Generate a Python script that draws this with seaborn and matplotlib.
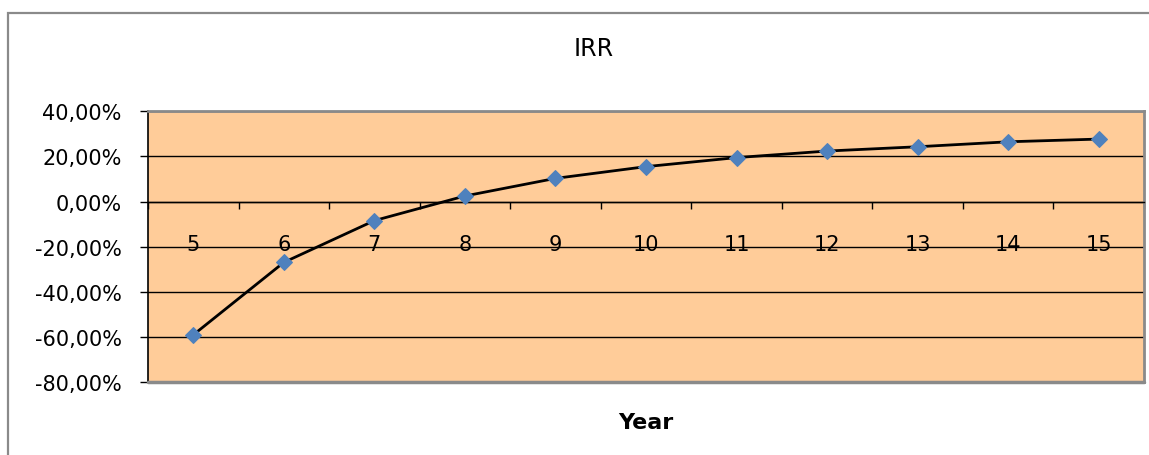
import matplotlib
matplotlib.use("Agg")
import matplotlib.pyplot as plt
from matplotlib.patches import Rectangle
from matplotlib.ticker import FixedLocator, FuncFormatter
import seaborn as sns
import pandas as pd

# IRR by project year
years = [5, 6, 7, 8, 9, 10, 11, 12, 13, 14, 15]
irr = [-0.590, -0.269, -0.084, 0.025, 0.103, 0.155, 0.195, 0.224, 0.243, 0.265, 0.277]
y_ticks = [-0.8, -0.6, -0.4, -0.2, 0.0, 0.2, 0.4]

title = "IRR"
x_label = "Year"

sns.set_style("white")
plt.rcParams["font.family"] = ["DejaVu Sans"]
plt.rcParams["text.color"] = "black"
plt.rcParams["axes.labelcolor"] = "black"
plt.rcParams["xtick.color"] = "black"
plt.rcParams["ytick.color"] = "black"

W, H = 1149, 456
fig = plt.figure(figsize=(W / 100, H / 100), dpi=100)
fig.patch.set_facecolor("white")

# plot area in pixel coordinates
left, right, top, bottom = 148, 1144, 112.3, 383.3
ax = fig.add_axes([left / W, 1 - bottom / H, (right - left) / W, (bottom - top) / H])
ax.set_facecolor("#FFCC99")

df = pd.DataFrame({"year": years, "irr": irr})
sns.lineplot(data=df, x="year", y="irr", ax=ax, color="black", linewidth=2,
             marker="D", markersize=8, markerfacecolor="#4F81BD",
             markeredgecolor="#4F81BD", zorder=3)

ax.set_xlim(years[0] - 0.5, years[-1] + 0.5)
ax.set_ylim(y_ticks[0], y_ticks[-1])

# y axis: percent labels with comma decimals
ax.yaxis.set_major_locator(FixedLocator(y_ticks))
ax.yaxis.set_major_formatter(FuncFormatter(lambda v, p: f"{v * 100:.2f}%".replace(".", ",")))
ax.tick_params(axis="y", direction="out", length=6, width=1, color="black",
               labelcolor="black", pad=13, labelsize=15, left=True)
ax.yaxis.grid(True, color="black", linewidth=1)
ax.xaxis.grid(False)
ax.set_axisbelow(True)

# x axis crosses at zero; category labels sit below it, ticks between categories
ax.spines["bottom"].set_position(("data", 0))
ax.spines["bottom"].set_color("black")
ax.spines["bottom"].set_linewidth(1)
ax.xaxis.set_major_locator(FixedLocator(years))
ax.xaxis.set_major_formatter(FuncFormatter(lambda v, p: f"{int(round(v))}"))
ax.xaxis.set_minor_locator(FixedLocator([y + 0.5 for y in [years[0] - 1] + years]))
ax.tick_params(axis="x", which="major", length=0, pad=23, labelsize=15,
               labelcolor="black", bottom=True)
ax.tick_params(axis="x", which="minor", direction="out", length=5, width=1,
               color="black", bottom=True)

ax.spines["left"].set_color("black")
ax.spines["left"].set_linewidth(1.2)
for s in ("top", "right"):
    ax.spines[s].set_color("#8a8a8a")
    ax.spines[s].set_linewidth(2)
ax.axhline(y_ticks[0], color="#8a8a8a", linewidth=2.5, clip_on=False, zorder=2.6)

ax.set_ylabel("")
ax.set_xlabel(x_label, fontsize=16, fontweight="bold", color="black")
ax.xaxis.set_label_coords(0.5, ((H - 423) / H - (1 - bottom / H)) / ((bottom - top) / H))
ax.xaxis.label.set_va("center")

fig.text(594 / W, 1 - 49 / H, title, ha="center", va="center", fontsize=17,
         color="black")

# chart frame
fig.patches.append(Rectangle((8 / W, -0.1), 1.2, (H - 14) / H + 0.1,
                             transform=fig.transFigure, fill=False,
                             edgecolor="#8a8a8a", linewidth=1.6))

fig.savefig("out.png", dpi=100)
